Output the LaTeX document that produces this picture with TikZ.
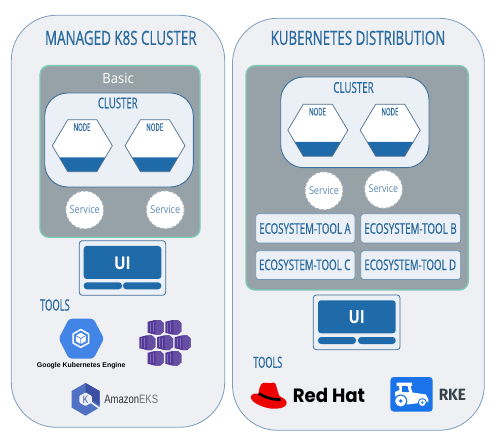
\documentclass[tikz,border=0pt]{standalone}
\usepackage{fontspec}
\usepackage{graphicx}
\newfontfamily\condfont[FakeBold=0.9]{Open Sans}
\newfontfamily\bodyfont{Open Sans}
\newfontfamily\arialfont{Liberation Sans}
\newfontfamily\hatfont{Poppins}
\newfontfamily\firafont{Fira Sans}
\definecolor{panelfill}{HTML}{EEF0F3}
\definecolor{panelline}{HTML}{7C9DBD}
\definecolor{graybg}{HTML}{97A2A8}
\definecolor{greenline}{HTML}{7CCBB6}
\definecolor{clusterfill}{HTML}{EBF0F6}
\definecolor{clusterline}{HTML}{3F6F9C}
\definecolor{uiblue}{HTML}{1F6AA8}
\definecolor{textblue}{HTML}{2A6A9E}
\definecolor{svctext}{HTML}{5A88B4}
\definecolor{hexline}{HTML}{4F6F8D}
\definecolor{gkeblue}{HTML}{4285E6}
\definecolor{akspurple}{HTML}{553A98}
\definecolor{akslight}{HTML}{7E6AB8}
\definecolor{eksblue}{HTML}{4F72C4}
\definecolor{eksdark}{HTML}{3D4FA3}
\definecolor{hatred}{HTML}{EE0000}
\definecolor{rkeblue}{HTML}{1A73E8}
\definecolor{rketext}{HTML}{36424A}
\newcommand\rbox[6]{\pgfmathsetmacro\wa{#5-#3}\pgfmathsetmacro\ha{#6-#4}%
  \node[#2,minimum width=\wa pt,minimum height=\ha pt,inner sep=0pt] (#1) at ({(#3+#5)/2},{(#4+#6)/2}) {};}
% #1 name, #2 style, #3 cx, #4 cy, #5 width, #6 height, #7 font+text
\newcommand\fit[7]{\node[inner sep=0pt,#2] (#1) at (#3,#4) {\resizebox*{#5pt}{#6pt}{#7}};}
\tikzset{
  panel/.style={draw=panelline,fill=panelfill,line width=0.8pt,rounded corners=45pt},
  graypanel/.style={draw=greenline,fill=graybg,line width=1.4pt,rounded corners=9pt},
  clusterbox/.style={draw=clusterline,fill=clusterfill,line width=0.9pt,rounded corners=23pt},
  toolbox/.style={draw=clusterline!75,fill=clusterfill,line width=0.8pt,rounded corners=3pt},
  uiframe/.style={draw=clusterline,fill=clusterfill,line width=0.8pt,rounded corners=3pt},
  uimain/.style={fill=uiblue,rounded corners=3pt},
  uibar/.style={fill=uiblue,rounded corners=3.2pt},
  service/.style={circle,draw=graybg!85!white,fill=white,line width=1pt,dash pattern=on 3pt off 1.8pt,minimum size=38pt,inner sep=0pt},
  bluetext/.style={text=textblue},
  svclabel/.style={text=svctext},
  whitetext/.style={text=white},
  hexnode/.pic={
    \fill[white] (-30,0)--(-14.5,-26)--(14.5,-26)--(30,0)--(14.5,26)--(-14.5,26)--cycle;
    \fill[uiblue] (-23,11.7)--(23,11.7)--(14.5,26)--(-14.5,26)--cycle;
    \draw[hexline,line width=0.7pt,line join=round] (-30,0)--(-14.5,-26)--(14.5,-26)--(30,0)--(14.5,26)--(-14.5,26)--cycle;
    \node[inner sep=0pt,text=textblue] (-label) at (-0.3,-18.5) {\resizebox*{16.8pt}{7.7pt}{\condfont NODE}};
  },
  aksbox/.pic={
    \fill[akspurple] (-8,-5.5)--(-1,-7.3)--(4.5,-7.3)--(8,-4.2)--(8,4.2)--(4.5,7.3)--(-1,7.3)--(-8,5.5)--cycle;
    \fill[akslight] (-6.2,-4.4) rectangle (-5.2,4.4);
    \fill[akslight] (-3,-5) rectangle (-2,5);
    \fill[akspurple!90!white] (0,-7.3)--(4.5,-7.3)--(8,-4.2)--(8,4.2)--(4.5,7.3)--(0,7.3)--cycle;
  },
}
\begin{document}
\begin{tikzpicture}[x=1pt,y=-1pt]
\useasboundingbox (0,0) rectangle (500,443);
\fill[white] (0,0) rectangle (500,443);
% panels
\rbox{leftpanel}{panel}{11.3}{15.3}{224.7}{427.3}
\rbox{rightpanel}{panel}{232.5}{18.3}{484.3}{430.3}
\fit{titleL}{bluetext}{120.8}{37.9}{151.5}{14.3}{\condfont MANAGED K8S CLUSTER}
\fit{titleR}{bluetext}{358}{37.9}{174.6}{14.3}{\condfont KUBERNETES DISTRIBUTION}
% gray regions
\rbox{grayL}{graypanel}{40}{65.7}{200}{237.3}
\rbox{grayR}{graypanel}{246}{65.7}{468.3}{290}
\fit{basic}{whitetext}{118.2}{78}{31.5}{10.5}{\bodyfont Basic}
% clusters
\rbox{clusterL}{clusterbox}{44.7}{93}{193.3}{187}
\rbox{clusterR}{clusterbox}{280.7}{77}{429}{167.7}
\fit{clusterLtxt}{bluetext}{117.8}{103}{39.7}{10.8}{\condfont CLUSTER}
\fit{clusterRtxt}{bluetext}{353.5}{87.5}{40.4}{11}{\condfont CLUSTER}
% hexagons
\pic (hexa) at (82.3,145.7) {hexnode};
\pic (hexb) at (155,145.7) {hexnode};
\pic (hexc) at (317.8,130.2) {hexnode};
\pic (hexd) at (390.2,130.2) {hexnode};
% services
\node[service] (svca) at (84.8,210) {};
\node[service] (svcb) at (165.2,209.8) {};
\node[service] (svcc) at (324,190.8) {};
\node[service] (svcd) at (383.5,189.3) {};
\fit{svcatxt}{svclabel}{84.7}{210}{30}{8}{\bodyfont Service}
\fit{svcbtxt}{svclabel}{165.2}{209.7}{29.7}{8}{\bodyfont Service}
\fit{svcctxt}{svclabel}{324}{190.8}{30}{8}{\bodyfont Service}
\fit{svcdtxt}{svclabel}{383.4}{189}{29.4}{8}{\bodyfont Service}
% ecosystem tools
\rbox{toola}{toolbox}{255.7}{213.7}{355}{243}
\rbox{toolb}{toolbox}{360.7}{213.7}{460.7}{243}
\rbox{toolc}{toolbox}{255.7}{250.7}{355}{279.5}
\rbox{toold}{toolbox}{360.7}{250.7}{460.7}{279.5}
\fit{toolatxt}{bluetext}{305}{228.5}{91.4}{10.8}{\condfont ECOSYSTEM-TOOL A}
\fit{toolbtxt}{bluetext}{410.5}{228.5}{92.4}{10.8}{\condfont ECOSYSTEM-TOOL B}
\fit{toolctxt}{bluetext}{304.7}{264.8}{91.3}{10.8}{\condfont ECOSYSTEM-TOOL C}
\fit{tooldtxt}{bluetext}{410.2}{264.8}{91.7}{10.8}{\condfont ECOSYSTEM-TOOL D}
% UI left
\rbox{uiL}{uiframe}{79.3}{240.7}{165.7}{295.3}
\rbox{uiLmain}{uimain}{83.7}{246}{161.3}{279}
\rbox{uiLbara}{uibar}{83.7}{282.3}{122}{289.3}
\rbox{uiLbarb}{uibar}{123}{282.3}{161.3}{289.3}
\fit{uiLtxt}{whitetext}{122.4}{263.6}{16.7}{12.7}{\bodyfont\bfseries UI}
% UI right
\rbox{uiR}{uiframe}{313.3}{295}{400}{349.7}
\rbox{uiRmain}{uimain}{318}{300.3}{395.7}{333.3}
\rbox{uiRbara}{uibar}{318}{337}{356}{344}
\rbox{uiRbarb}{uibar}{358}{337}{395.7}{344}
\fit{uiRtxt}{whitetext}{356.8}{317.5}{16.3}{13.2}{\bodyfont\bfseries UI}
% tools labels
\fit{toolsL}{bluetext}{54.9}{305}{29.7}{11.4}{\condfont TOOLS}
\fit{toolsR}{bluetext}{267.8}{362.3}{29}{11.3}{\condfont TOOLS}
% GKE logo
\fill[gkeblue,rounded corners=3pt] (58.7,338.7)--(69,318.7)--(93.5,318.7)--(104,338.7)--(93.5,358.7)--(69,358.7)--cycle;
\draw[white,line width=1.5pt,line join=round] (80.8,329.5)--(88.6,334)--(88.6,343)--(80.8,347.3)--(73,343)--(73,334)--cycle;
\fill[white] (80.8,332.8)--(85.8,335.6)--(85.8,341.2)--(80.8,344)--(75.8,341.2)--(75.8,335.6)--cycle;
\draw[gkeblue,line width=0.7pt] (75.8,335.6)--(80.8,338.4)--(85.8,335.6) (80.8,338.4)--(80.8,344);
\node[inner sep=0pt] (gketxt) at (81.2,365.7) {\resizebox{88.5pt}{!}{\arialfont\bfseries Google Kubernetes Engine}};
% AKS logo
\pic at (155.7,327.3) {aksbox};
\pic at (173.3,327.3) {aksbox};
\pic at (147.3,342.7) {aksbox};
\pic at (165,342.7) {aksbox};
\pic at (182.7,342.7) {aksbox};
\pic at (155.7,358.3) {aksbox};
\pic at (173.3,358.3) {aksbox};
% EKS logo
\fill[eksblue] (85.5,383)--(99.5,391)--(99.5,407.5)--(85.5,415.7)--(71.5,407.5)--(71.5,391)--cycle;
\fill[eksdark] (85.5,383)--(99.5,391)--(99.5,405)--(92,400)--(92,396)--(85.5,392)--cycle;
\fill[panelfill,rounded corners=1pt] (85.5,392.5)--(91.8,396)--(91.8,402.5)--(85.5,406)--(79.3,402.5)--(79.3,396)--cycle;
\draw[panelfill,line width=1.6pt] (90.5,402)--(100.5,409);
\node[inner sep=0pt,text=eksdark] (ekslogo) at (85.5,399.3) {\resizebox*{5.5pt}{7.5pt}{\arialfont K}};
\node[inner sep=0pt,text=black!80] (ekstxt) at (131.2,399.2) {\resizebox*{53.8pt}{8.6pt}{\arialfont Amazon\textcolor{black!55}{EKS}}};
% Red Hat logo
\fill[hatred] (258.3,393.7) .. controls (259.5,388) and (260,384.5) .. (263,383) .. controls (266,381.5) and (268,384) .. (270,383.2) .. controls (272.5,382) and (275,382) .. (276,385) .. controls (277,389) and (278,393) .. (279.5,396) .. controls (283,398) and (287,400) .. (286.7,403.5) .. controls (286,408) and (278,409.3) .. (271,408.6) .. controls (262,407.5) and (251,402) .. (250.8,397.5) .. controls (250.7,394.5) and (254,393) .. (258.3,393.7) -- cycle;
\draw[black,line width=2.6pt] (258.8,393.5) .. controls (265,397.5) and (274,400) .. (280.5,399.5);
\node[inner sep=0pt] (rhtxt) at (328.9,395.5) {\resizebox*{72.3pt}{14.4pt}{\hatfont\bfseries Red Hat}};
% RKE logo
\fill[rkeblue,rounded corners=3.5pt] (390.4,377) rectangle (432.7,411.7);
\fill[white] (396.5,382.7) -- (412,382.7) -- (412,386.2) -- (410.5,386.2) -- (412.5,392.5) -- (426,394.5) -- (428.5,400) -- (428,402) -- (407,404.5) -- (395,396) -- (395,392) -- (399.5,390) -- (399,386.2) -- (396.5,386.2) -- cycle;
\fill[rkeblue] (402,386.2) -- (407.5,386.2) -- (409,392) -- (402,392) -- cycle;
\draw[rkeblue,line width=1.1pt,fill=white] (400.7,401) circle (6);
\fill[rkeblue] (400.7,401) circle (1.9);
\draw[rkeblue,line width=0.9pt,fill=white] (422.3,402.6) circle (4);
\fill[rkeblue] (422.3,402.6) circle (1.3);
\node[inner sep=0pt,text=rketext] (rketxt) at (452.4,394.4) {\resizebox*{27.3pt}{11.3pt}{\firafont\bfseries RKE}};
\end{tikzpicture}
\end{document}
